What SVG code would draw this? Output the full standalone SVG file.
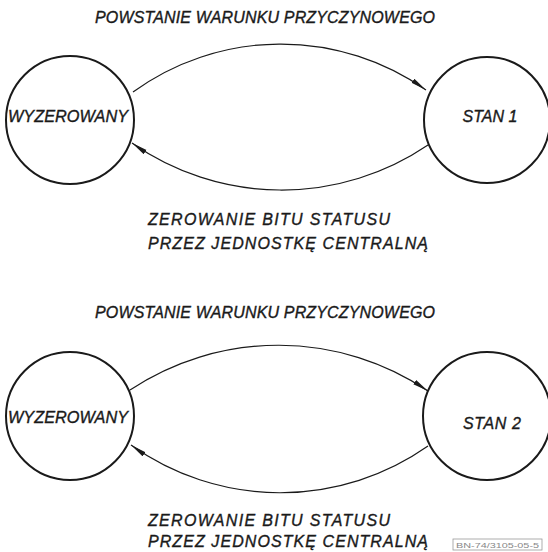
<svg xmlns="http://www.w3.org/2000/svg" width="548" height="552" viewBox="0 0 548 552">
<defs>
<style>
.node{fill:#fff;stroke:#1a1a1a;stroke-width:2}
.edge{fill:none;stroke:#1a1a1a;stroke-width:1.2}
text{font-family:"Liberation Sans","DejaVu Sans",Arial,sans-serif;font-style:italic;fill:#1a1a1a;stroke:#1a1a1a;stroke-width:0.35}
.lbl{font-size:16px}
.nl{font-size:16px;text-anchor:middle}
.tag{font-size:8px;font-style:normal;fill:#888;stroke:none}
</style>
<marker id="arr" viewBox="0 0 16 6" refX="16" refY="3" markerWidth="16" markerHeight="6" markerUnits="userSpaceOnUse" orient="auto">
<path d="M0,0.5 L16,3 L0,5.5 Z" fill="#1a1a1a"/>
</marker>
</defs>
<rect width="548" height="552" fill="#fff"/>
<g id="connectors">
<path class="edge" d="M133,92 A252,252 0 0 1 426,90" marker-end="url(#arr)"/>
<path class="edge" d="M428,145 A261,261 0 0 1 132,143" marker-end="url(#arr)"/>
<path class="edge" d="M130,390 A268,268 0 0 1 428,391" marker-end="url(#arr)"/>
<path class="edge" d="M428,446 A257,257 0 0 1 131,445" marker-end="url(#arr)"/>
</g>
<g id="title1"><text class="lbl" x="95" y="23" textLength="340" lengthAdjust="spacing">POWSTANIE WARUNKU PRZYCZYNOWEGO</text></g>
<g id="node-wyzerowany-1">
<circle class="node" cx="70" cy="120" r="64"/>
<text class="nl" x="68" y="122" textLength="120" lengthAdjust="spacingAndGlyphs">WYZEROWANY</text>
</g>
<g id="node-stan1">
<circle class="node" cx="487" cy="120" r="63"/>
<text class="nl" x="490" y="122" textLength="55" lengthAdjust="spacing">STAN 1</text>
</g>
<g id="label1">
<text class="lbl" x="148" y="225" textLength="242" lengthAdjust="spacing">ZEROWANIE BITU STATUSU</text>
<text class="lbl" x="148" y="249" textLength="280" lengthAdjust="spacing">PRZEZ JEDNOSTKĘ CENTRALNĄ</text>
</g>
<g id="title2"><text class="lbl" x="95" y="318" textLength="340" lengthAdjust="spacing">POWSTANIE WARUNKU PRZYCZYNOWEGO</text></g>
<g id="node-wyzerowany-2">
<circle class="node" cx="70" cy="416" r="64"/>
<text class="nl" x="68" y="423" textLength="120" lengthAdjust="spacingAndGlyphs">WYZEROWANY</text>
</g>
<g id="node-stan2">
<circle class="node" cx="487" cy="416" r="64"/>
<text class="nl" x="492" y="429" textLength="58" lengthAdjust="spacing">STAN 2</text>
</g>
<g id="label2">
<text class="lbl" x="148" y="526" textLength="242" lengthAdjust="spacing">ZEROWANIE BITU STATUSU</text>
<text class="lbl" x="148" y="547" textLength="280" lengthAdjust="spacing">PRZEZ JEDNOSTKĘ CENTRALNĄ</text>
</g>
<g id="tag">
<rect x="453" y="539" width="89" height="11" fill="none" stroke="#999" stroke-width="0.8"/>
<text class="tag" x="456" y="548" textLength="83" lengthAdjust="spacingAndGlyphs">BN-74/3105-05-5</text>
</g>
</svg>
